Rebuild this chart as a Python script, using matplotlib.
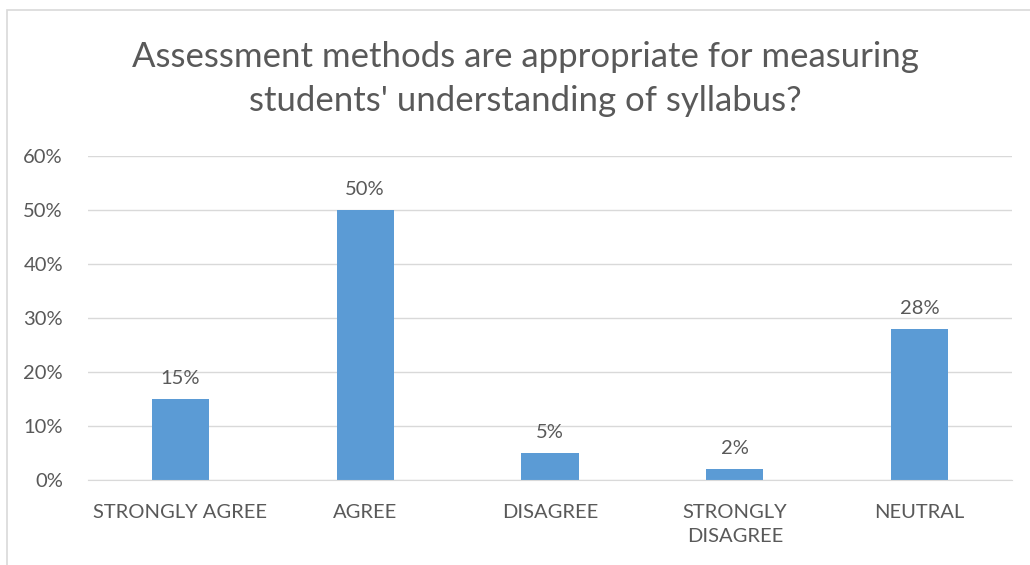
import matplotlib
matplotlib.use("Agg")
import matplotlib.pyplot as plt
from matplotlib.patches import Rectangle
from matplotlib.ticker import FuncFormatter

categories = ["STRONGLY AGREE", "AGREE", "DISAGREE", "STRONGLY\nDISAGREE", "NEUTRAL"]
values = [0.15, 0.50, 0.05, 0.02, 0.28]
value_labels = ["15%", "50%", "5%", "2%", "28%"]
yticks = [0.0, 0.1, 0.2, 0.3, 0.4, 0.5, 0.6]

TEXT = "#595959"
BAR = "#5b9bd5"
GRID = "#d9d9d9"

plt.rcParams["font.family"] = ["Lato", "DejaVu Sans"]

fig = plt.figure(figsize=(10.3, 5.65), dpi=100)
fig.patches.append(Rectangle((7 / 1030, -0.1), 1.1, 1 - 10 / 565 + 0.1,
                             transform=fig.transFigure, fill=False,
                             edgecolor=GRID, linewidth=1.2))

ax = fig.add_axes([88 / 1030, 1 - 480 / 565, (1012 - 88) / 1030, (480 - 156) / 565])
x = range(len(categories))
ax.bar(x, values, width=0.31, color=BAR, zorder=3)
for xi, v, lab in zip(x, values, value_labels):
    ax.text(xi, v + 0.022, lab, ha="center", va="bottom", fontsize=14.5, color=TEXT)

ax.set_xlim(-0.5, len(categories) - 0.5)
ax.set_ylim(0, 0.6)
ax.set_yticks(yticks)
ax.yaxis.set_major_formatter(FuncFormatter(lambda v, _: f"{v * 100:.0f}%"))
ax.set_xticks(list(x))
ax.set_xticklabels(categories, linespacing=1.5)
ax.tick_params(axis="both", length=0, labelsize=14.5, labelcolor=TEXT)
ax.tick_params(axis="x", pad=17)
ax.tick_params(axis="y", pad=18)
ax.grid(axis="y", color=GRID, linewidth=1, zorder=0)
for s in ["top", "right", "left"]:
    ax.spines[s].set_visible(False)
ax.spines["bottom"].set_color(GRID)
ax.spines["bottom"].set_zorder(4)

fig.text(525 / 1030, 1 - 79 / 565,
         "Assessment methods are appropriate for measuring\nstudents' understanding of syllabus?",
         ha="center", va="center", fontsize=25, color=TEXT, linespacing=1.45)

fig.savefig("out.png", dpi=100)
